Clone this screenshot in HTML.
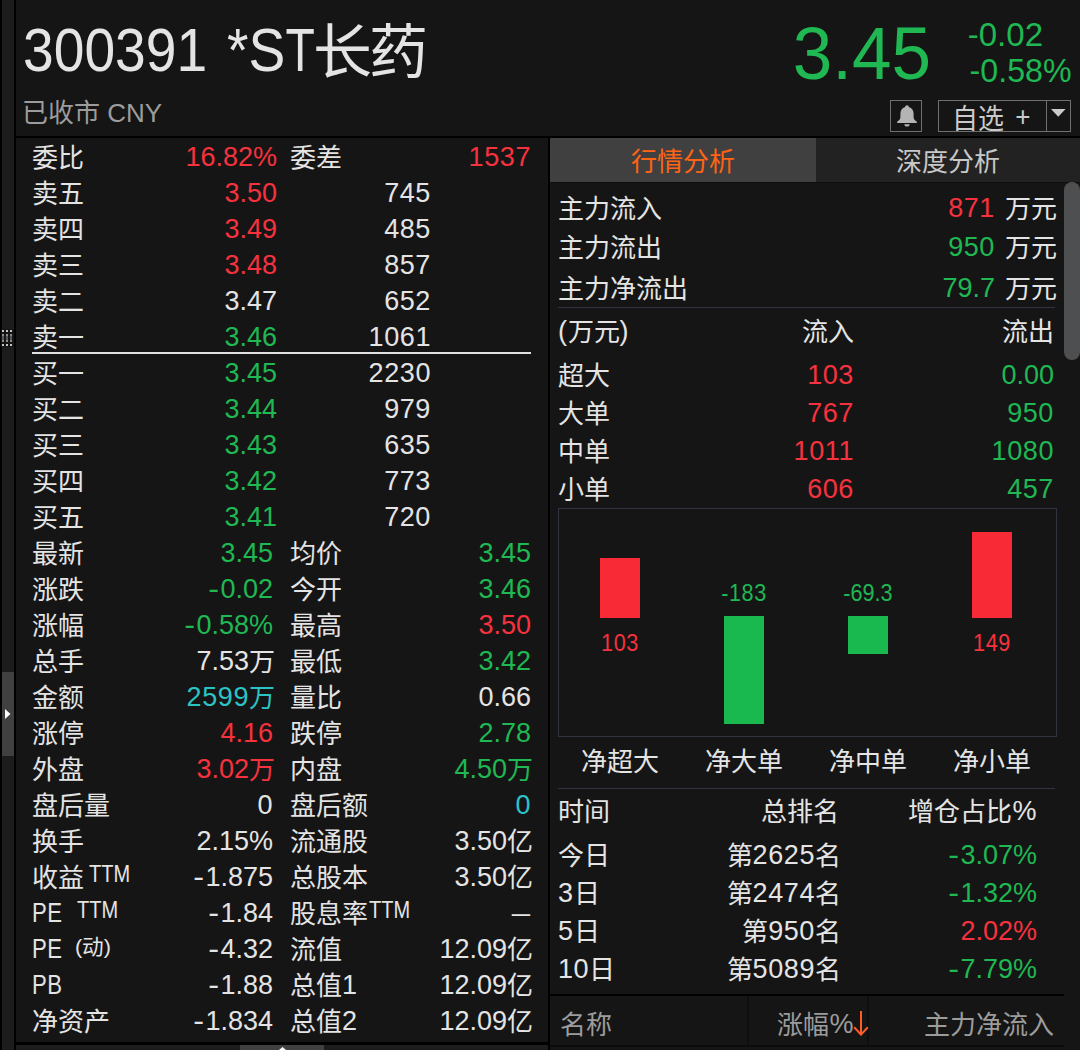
<!DOCTYPE html>
<html lang="zh-CN">
<head>
<meta charset="utf-8">
<title>300391 *ST长药</title>
<style>
*{margin:0;padding:0;box-sizing:border-box}
html,body{width:1080px;height:1050px;overflow:hidden;background:#151515}
body{position:relative;font-family:"Liberation Sans",sans-serif;font-weight:300;color:#e4e4e4;font-size:26px}
.a{position:absolute;white-space:nowrap}
.t{position:absolute;white-space:nowrap;height:36px;line-height:36px}
.n{font-size:27px}
.k{font-size:26px;margin-top:1px}
.j{font-size:26px;position:relative;top:1px;letter-spacing:0}
.i{letter-spacing:.6px}
.r{text-align:right}
.c{text-align:center}
.red{color:#f5323e}.grn{color:#1fb853}.cyn{color:#2cc3c5}.gry{color:#9c9c9c}.org{color:#ff6414}
.h{display:inline-block;transform:scaleX(1.2);transform-origin:100% 50%;margin-right:1px}
.ds{display:inline-block;transform:scaleX(.68);transform-origin:100% 50%}
</style>
</head>
<body>
<div class="a" style="left:0px;top:0px;width:2px;height:1050px;background:#000;"></div>
<div class="a" style="left:2px;top:0px;width:12px;height:1050px;background:#1c1c1c;"></div>
<div class="a" style="left:14px;top:0px;width:2px;height:1050px;background:#000;"></div>
<div class="a" style="left:2px;top:672px;width:12px;height:84px;background:#404040;"></div>
<svg class="a" style="left:5px;top:708.500px" width="6" height="10"><path d="M0 0L5.500 5L0 10Z" fill="#fff"/></svg>
<svg class="a" style="left:1px;top:329px" width="13" height="18"><rect x="0" y="0" width="12.5" height="18" fill="#141414"/><rect x="1" y="1" width="2" height="2" fill="#c4c4c4"/><rect x="1" y="5" width="2" height="2" fill="#8c8883"/><rect x="1" y="7" width="2" height="4" fill="#555a5e"/><rect x="1" y="11" width="2" height="2" fill="#8c8883"/><rect x="1" y="15" width="2" height="2" fill="#c4c4c4"/><rect x="5" y="1" width="2" height="2" fill="#c4c4c4"/><rect x="5" y="5" width="2" height="2" fill="#8c8883"/><rect x="5" y="7" width="2" height="4" fill="#555a5e"/><rect x="5" y="11" width="2" height="2" fill="#8c8883"/><rect x="5" y="15" width="2" height="2" fill="#c4c4c4"/><rect x="9" y="1" width="2" height="2" fill="#c4c4c4"/><rect x="9" y="5" width="2" height="2" fill="#8c8883"/><rect x="9" y="7" width="2" height="4" fill="#555a5e"/><rect x="9" y="11" width="2" height="2" fill="#8c8883"/><rect x="9" y="15" width="2" height="2" fill="#c4c4c4"/></svg>
<div class="a" style="left:16px;top:136px;width:1064px;height:2px;background:#000;"></div>
<div class="a" style="left:548px;top:138px;width:2px;height:912px;background:#000;"></div>
<div class="a" style="left:16px;top:1042px;width:532px;height:3px;background:#000;"></div>
<div class="a" style="left:16px;top:1045px;width:532px;height:5px;background:#1c1c1c;"></div>
<div class="a" style="left:240px;top:1045px;width:84px;height:5px;background:#404040;"></div>
<svg class="a" style="left:278.500px;top:1047.300px" width="7" height="3"><path d="M0 3L3.500 0L7 3Z" fill="#fff"/></svg>
<div class="a" style="left:23px;top:14px;font-size:62px;line-height:72px;transform:scaleX(.89);transform-origin:0 0;word-spacing:5px">300391 *S<span style="display:inline-block;transform:scaleX(.87);transform-origin:0 50%">T</span></div>
<div class="a" style="left:313px;top:17px;font-size:59px;line-height:72px;letter-spacing:-3px">长药</div>
<div class="a gry" style="left:22px;top:95px;font-size:26px;line-height:36px">已收市 CNY</div>
<div class="a grn r" style="right:149px;top:11px;font-size:74px;line-height:86px;transform:scaleX(.96);transform-origin:100% 0">3.45</div>
<div class="a grn r" style="right:37px;top:17px;font-size:33px;line-height:36px">-0.02</div>
<div class="a grn r" style="right:8px;top:53px;font-size:33px;line-height:36px;transform:scaleX(.975);transform-origin:100% 0">-0.58%</div>
<div class="a" style="left:890px;top:100px;width:32px;height:32px;border:1px solid #707070"></div>
<svg class="a" style="left:896px;top:104px" width="22" height="24" viewBox="0 0 22 24"><path d="M11 1.2c-1.1 0-1.800.8-1.800 1.800C6 4 4.400 6.600 4.400 9.800v3.400c0 1.900-1.400 3.300-3.200 4.200v1.500h19.600v-1.500c-1.800-.9-3.200-2.300-3.200-4.200V9.800c0-3.200-1.600-5.800-4.800-6.800C12.800 2 12.100 1.200 11 1.200z" fill="#b4b4b4"/><path d="M8.300 20.200h5.400c0 1.400-1.200 2.400-2.700 2.400s-2.700-1-2.700-2.400z" fill="#b4b4b4"/></svg>
<div class="a" style="left:938px;top:100px;width:109px;height:32px;border:1px solid #707070;overflow:hidden"><div class="a" style="left:13px;top:-1px;font-size:26px;line-height:36px;color:#cacaca;word-spacing:4px;transform:scaleY(1.08);transform-origin:0 0">自选 <span style="position:relative;top:-3px">+</span></div></div>
<div class="a" style="left:1046px;top:100px;width:25px;height:32px;border:1px solid #707070"></div>
<svg class="a" style="left:1050.500px;top:109px" width="15" height="8"><path d="M0 0H14.600L7.300 7.800Z" fill="#cacaca"/></svg>
<div class="t k " style="left:32px;top:139px;">委比</div>
<div class="t r n red" style="right:803px;top:139px;">16.82%</div>
<div class="t k " style="left:290px;top:139px;">委差</div>
<div class="t r n i red" style="right:549px;top:139px;">1537</div>
<div class="t k " style="left:32px;top:175px;">卖五</div>
<div class="t r n red" style="right:803px;top:175px;">3.50</div>
<div class="t r n i " style="right:649px;top:175px;">745</div>
<div class="t k " style="left:32px;top:211px;">卖四</div>
<div class="t r n red" style="right:803px;top:211px;">3.49</div>
<div class="t r n i " style="right:649px;top:211px;">485</div>
<div class="t k " style="left:32px;top:247px;">卖三</div>
<div class="t r n red" style="right:803px;top:247px;">3.48</div>
<div class="t r n i " style="right:649px;top:247px;">857</div>
<div class="t k " style="left:32px;top:283px;">卖二</div>
<div class="t r n " style="right:803px;top:283px;">3.47</div>
<div class="t r n i " style="right:649px;top:283px;">652</div>
<div class="t k " style="left:32px;top:319px;">卖一</div>
<div class="t r n grn" style="right:803px;top:319px;">3.46</div>
<div class="t r n i " style="right:649px;top:319px;">1061</div>
<div class="t k " style="left:32px;top:355px;">买一</div>
<div class="t r n grn" style="right:803px;top:355px;">3.45</div>
<div class="t r n i " style="right:649px;top:355px;">2230</div>
<div class="t k " style="left:32px;top:391px;">买二</div>
<div class="t r n grn" style="right:803px;top:391px;">3.44</div>
<div class="t r n i " style="right:649px;top:391px;">979</div>
<div class="t k " style="left:32px;top:427px;">买三</div>
<div class="t r n grn" style="right:803px;top:427px;">3.43</div>
<div class="t r n i " style="right:649px;top:427px;">635</div>
<div class="t k " style="left:32px;top:463px;">买四</div>
<div class="t r n grn" style="right:803px;top:463px;">3.42</div>
<div class="t r n i " style="right:649px;top:463px;">773</div>
<div class="t k " style="left:32px;top:499px;">买五</div>
<div class="t r n grn" style="right:803px;top:499px;">3.41</div>
<div class="t r n i " style="right:649px;top:499px;">720</div>
<div class="t k " style="left:32px;top:535px;">最新</div>
<div class="t r n grn" style="right:807px;top:535px;">3.45</div>
<div class="t k " style="left:290px;top:535px;">均价</div>
<div class="t r n grn" style="right:549px;top:535px;">3.45</div>
<div class="t k " style="left:32px;top:571px;">涨跌</div>
<div class="t r n grn" style="right:807px;top:571px;"><span class="h">-</span>0.02</div>
<div class="t k " style="left:290px;top:571px;">今开</div>
<div class="t r n grn" style="right:549px;top:571px;">3.46</div>
<div class="t k " style="left:32px;top:607px;">涨幅</div>
<div class="t r n grn" style="right:807px;top:607px;"><span class="h">-</span>0.58%</div>
<div class="t k " style="left:290px;top:607px;">最高</div>
<div class="t r n red" style="right:549px;top:607px;">3.50</div>
<div class="t k " style="left:32px;top:643px;">总手</div>
<div class="t r n " style="right:805px;top:643px;">7.53<span class="j">万</span></div>
<div class="t k " style="left:290px;top:643px;">最低</div>
<div class="t r n grn" style="right:549px;top:643px;">3.42</div>
<div class="t k " style="left:32px;top:679px;">金额</div>
<div class="t r n i cyn" style="right:805px;top:679px;">2599<span class="j">万</span></div>
<div class="t k " style="left:290px;top:679px;">量比</div>
<div class="t r n " style="right:549px;top:679px;">0.66</div>
<div class="t k " style="left:32px;top:715px;">涨停</div>
<div class="t r n red" style="right:807px;top:715px;">4.16</div>
<div class="t k " style="left:290px;top:715px;">跌停</div>
<div class="t r n grn" style="right:549px;top:715px;">2.78</div>
<div class="t k " style="left:32px;top:751px;">外盘</div>
<div class="t r n red" style="right:805px;top:751px;">3.02<span class="j">万</span></div>
<div class="t k " style="left:290px;top:751px;">内盘</div>
<div class="t r n grn" style="right:547px;top:751px;">4.50<span class="j">万</span></div>
<div class="t k " style="left:32px;top:787px;">盘后量</div>
<div class="t r n i " style="right:807px;top:787px;">0</div>
<div class="t k " style="left:290px;top:787px;">盘后额</div>
<div class="t r n i cyn" style="right:549px;top:787px;">0</div>
<div class="t k " style="left:32px;top:823px;">换手</div>
<div class="t r n " style="right:807px;top:823px;">2.15%</div>
<div class="t k " style="left:290px;top:823px;">流通股</div>
<div class="t r n " style="right:547px;top:823px;">3.50<span class="j">亿</span></div>
<div class="t k " style="left:32px;top:859px;">收益</div>
<div class="t r n " style="right:807px;top:859px;"><span class="h">-</span>1.875</div>
<div class="t k " style="left:290px;top:859px;">总股本</div>
<div class="t r n " style="right:547px;top:859px;">3.50<span class="j">亿</span></div>
<div class="t n i " style="left:32px;top:895px;transform:scaleX(.82);transform-origin:0 50%">PE</div>
<div class="t r n " style="right:807px;top:895px;"><span class="h">-</span>1.84</div>
<div class="t k " style="left:290px;top:895px;">股息率</div>
<div class="t r n i " style="right:549px;top:895px;"><span class="ds">—</span></div>
<div class="t n i " style="left:32px;top:931px;transform:scaleX(.82);transform-origin:0 50%">PE</div>
<div class="t r n " style="right:807px;top:931px;"><span class="h">-</span>4.32</div>
<div class="t k " style="left:290px;top:931px;">流值</div>
<div class="t r n " style="right:547px;top:931px;">12.09<span class="j">亿</span></div>
<div class="t n i " style="left:32px;top:967px;transform:scaleX(.82);transform-origin:0 50%">PB</div>
<div class="t r n " style="right:807px;top:967px;"><span class="h">-</span>1.88</div>
<div class="t n i " style="left:290px;top:967px;"><span class="j">总值</span>1</div>
<div class="t r n " style="right:547px;top:967px;">12.09<span class="j">亿</span></div>
<div class="t k " style="left:32px;top:1003px;">净资产</div>
<div class="t r n " style="right:807px;top:1003px;"><span class="h">-</span>1.834</div>
<div class="t n i " style="left:290px;top:1003px;"><span class="j">总值</span>2</div>
<div class="t r n " style="right:547px;top:1003px;">12.09<span class="j">亿</span></div>
<div class="a" style="left:32px;top:352px;width:499px;height:2px;background:#e0e0e0;"></div>
<div class="a" style="left:88.5px;top:862px;font-size:23px;line-height:24px;transform:scaleX(0.87);transform-origin:0 50%">TTM</div>
<div class="a" style="left:76.5px;top:898px;font-size:23px;line-height:24px;transform:scaleX(0.87);transform-origin:0 50%">TTM</div>
<div class="a" style="left:369px;top:898px;font-size:23px;line-height:24px;transform:scaleX(0.87);transform-origin:0 50%">TTM</div>
<div class="a" style="left:75px;top:935px;font-size:21px;line-height:24px;transform:scaleX(1.03);transform-origin:0 50%">(动)</div>
<div class="a" style="left:550px;top:138px;width:266px;height:44px;background:#404040;"></div>
<div class="a" style="left:816px;top:138px;width:264px;height:44px;background:#222;"></div>
<div class="a" style="left:550px;top:182px;width:530px;height:1px;background:#0e0e0e;"></div>
<div class="t c k org" style="left:533px;width:300px;top:143px;">行情分析</div>
<div class="t c k " style="left:798px;width:300px;top:143px;color:#c8c8c8">深度分析</div>
<div class="a" style="left:1064px;top:182px;width:16px;height:178px;background:#4e4f51;border-radius:8px"></div>
<div class="t k " style="left:558px;top:190px;">主力流入</div>
<div class="t r k " style="right:23px;top:190px;">万元</div>
<div class="t r n i red" style="right:85px;top:190px;">871</div>
<div class="t k " style="left:558px;top:229px;">主力流出</div>
<div class="t r k " style="right:23px;top:229px;">万元</div>
<div class="t r n i grn" style="right:85px;top:229px;">950</div>
<div class="t k " style="left:558px;top:270px;">主力净流出</div>
<div class="t r k " style="right:23px;top:270px;">万元</div>
<div class="t r n grn" style="right:85px;top:270px;">79.7</div>
<div class="a" style="left:558px;top:307px;width:497px;height:1px;background:#2f3342;"></div>
<div class="t n i " style="left:558px;top:313px;">(<span class="j">万元</span>)</div>
<div class="t r k " style="right:226px;top:313px;">流入</div>
<div class="t r k " style="right:26px;top:313px;">流出</div>
<div class="t k " style="left:558px;top:357px;">超大</div>
<div class="t r n i red" style="right:226px;top:357px;">103</div>
<div class="t r n grn" style="right:26px;top:357px;">0.00</div>
<div class="t k " style="left:558px;top:395px;">大单</div>
<div class="t r n i red" style="right:226px;top:395px;">767</div>
<div class="t r n i grn" style="right:26px;top:395px;">950</div>
<div class="t k " style="left:558px;top:433px;">中单</div>
<div class="t r n i red" style="right:226px;top:433px;">1011</div>
<div class="t r n i grn" style="right:26px;top:433px;">1080</div>
<div class="t k " style="left:558px;top:471px;">小单</div>
<div class="t r n i red" style="right:226px;top:471px;">606</div>
<div class="t r n i grn" style="right:26px;top:471px;">457</div>
<div class="a" style="left:558px;top:508px;width:499px;height:229px;border:1px solid #2f3342"></div>
<div class="a" style="left:600px;top:558px;width:40px;height:60px;background:#f82a36;"></div>
<div class="a" style="left:724px;top:616px;width:40px;height:108px;background:#19b94f;"></div>
<div class="a" style="left:848px;top:616px;width:40px;height:38px;background:#19b94f;"></div>
<div class="a" style="left:972px;top:532px;width:40px;height:86px;background:#f82a36;"></div>
<div class="t c n i red" style="left:470px;width:300px;top:625px;font-size:23px;transform:scaleX(.94)">103</div>
<div class="t c n i grn" style="left:594px;width:300px;top:575px;font-size:23px;transform:scaleX(.94)">-183</div>
<div class="t c n grn" style="left:718px;width:300px;top:575px;font-size:23px;transform:scaleX(.94)">-69.3</div>
<div class="t c n i red" style="left:842px;width:300px;top:625px;font-size:23px;transform:scaleX(.94)">149</div>
<div class="t c k " style="left:470px;width:300px;top:743px;">净超大</div>
<div class="t c k " style="left:594px;width:300px;top:743px;">净大单</div>
<div class="t c k " style="left:718px;width:300px;top:743px;">净中单</div>
<div class="t c k " style="left:842px;width:300px;top:743px;">净小单</div>
<div class="a" style="left:558px;top:788px;width:497px;height:1px;background:#2f3342;"></div>
<div class="t k " style="left:558px;top:793px;">时间</div>
<div class="t r k " style="right:241px;top:793px;">总排名</div>
<div class="t r n i " style="right:43px;top:793px;"><span class="j">增仓占比</span>%</div>
<div class="t k " style="left:558px;top:837px;">今日</div>
<div class="t r n i " style="right:239px;top:837px;"><span class="j">第</span>2625<span class="j">名</span></div>
<div class="t r n grn" style="right:43px;top:837px;"><span class="h">-</span>3.07%</div>
<div class="t n i " style="left:558px;top:875px;">3<span class="j">日</span></div>
<div class="t r n i " style="right:239px;top:875px;"><span class="j">第</span>2474<span class="j">名</span></div>
<div class="t r n grn" style="right:43px;top:875px;"><span class="h">-</span>1.32%</div>
<div class="t n i " style="left:558px;top:913px;">5<span class="j">日</span></div>
<div class="t r n i " style="right:239px;top:913px;"><span class="j">第</span>950<span class="j">名</span></div>
<div class="t r n red" style="right:43px;top:913px;">2.02%</div>
<div class="t n i " style="left:558px;top:951px;">10<span class="j">日</span></div>
<div class="t r n i " style="right:239px;top:951px;"><span class="j">第</span>5089<span class="j">名</span></div>
<div class="t r n grn" style="right:43px;top:951px;"><span class="h">-</span>7.79%</div>
<div class="a" style="left:550px;top:994px;width:514px;height:2px;background:#000;"></div>
<div class="a" style="left:747px;top:996px;width:2px;height:49px;background:#0e0e0e;"></div>
<div class="a" style="left:867px;top:996px;width:2px;height:49px;background:#0e0e0e;"></div>
<div class="a" style="left:550px;top:1045px;width:514px;height:2px;background:#0b0b0b;"></div>
<div class="t k gry" style="left:560px;top:1006px;">名称</div>
<div class="t r n i gry" style="right:226px;top:1006px;"><span class="j">涨幅</span>%</div>
<svg class="a" style="left:853px;top:1011px" width="16" height="25" fill="none" stroke="#ff5c28" stroke-width="2"><path d="M8 0V23M1.200 16.200L8 23.600L14.800 16.200"/></svg>
<div class="t r k gry" style="right:26px;top:1006px;">主力净流入</div>
</body>
</html>
